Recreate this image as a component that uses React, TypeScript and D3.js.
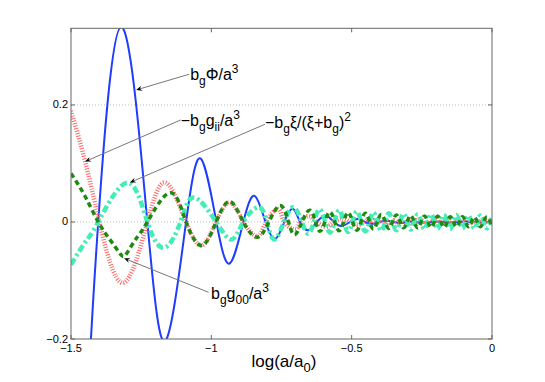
import React from 'react';
import * as d3 from 'd3';

const W = 545;
const H = 382;
const PLOT = { left: 71, right: 492, top: 28.3, bottom: 339 };

const xTicks = [-1.5, -1, -0.5, 0];
const xTickLabels = ['\u22121.5', '\u22121', '\u22120.5', '0'];
const yTicks = [-0.2, 0, 0.2];
const yTickLabels = ['\u22120.2', '0', '0.2'];
const yGrid = [0, 0.2];

// b_g Phi / a^3  (blue solid)
const phi: [number, number][] = [
  [-1.465, -0.45], [-1.447, -0.33], [-1.429, -0.2], [-1.403, 0], [-1.322, 0.333],
  [-1.228, 0], [-1.162, -0.202], [-1.09, 0], [-1.037, 0.108], [-0.982, 0],
  [-0.935, -0.071], [-0.886, 0], [-0.846, 0.0445], [-0.807, 0], [-0.772, -0.0287],
  [-0.74, 0], [-0.71, 0.0225], [-0.684, 0], [-0.655, -0.0142], [-0.624, 0],
  [-0.591, 0.0104], [-0.563, 0], [-0.535, -0.0067], [-0.506, 0], [-0.478, 0.005],
  [-0.453, 0], [-0.426, -0.003], [-0.4, 0], [-0.375, 0.002], [-0.35, 0],
  [-0.32, -0.0015], [-0.29, 0.001], [-0.25, -0.001], [-0.2, 0.001], [-0.15, -0.0008],
  [-0.1, 0.0008], [-0.05, -0.0006], [0, 0],
];

// -b_g g_ii / a^3  (red dotted)
const gii: [number, number][] = [
  [-1.5, 0.19], [-1.45, 0.104], [-1.399, 0], [-1.316, -0.104], [-1.228, 0],
  [-1.162, 0.067], [-1.09, 0], [-1.034, -0.04], [-0.983, 0], [-0.934, 0.033],
  [-0.886, 0], [-0.836, -0.024], [-0.805, 0], [-0.762, 0.0217], [-0.74, 0],
  [-0.7, -0.0125], [-0.684, 0], [-0.655, 0.01], [-0.624, 0], [-0.591, -0.008],
  [-0.563, 0], [-0.535, 0.006], [-0.506, 0], [-0.478, -0.005], [-0.453, 0],
  [-0.44, 0.003], [-0.43, -0.002], [-0.418, 0.004], [-0.405, -0.001], [-0.395, 0.002],
  [-0.383, -0.004], [-0.372, 0.001], [-0.36, -0.002], [-0.348, 0.003], [-0.335, -0.001],
  [-0.323, 0.002], [-0.31, -0.003], [-0.298, 0.001], [-0.285, -0.002], [-0.272, 0.003],
  [-0.26, -0.001], [-0.247, 0.002], [-0.235, -0.003], [-0.222, 0.002], [-0.21, -0.002],
  [-0.198, 0.004], [-0.186, -0.002], [-0.174, 0.003], [-0.162, -0.004], [-0.15, 0.003],
  [-0.138, -0.002], [-0.126, 0.004], [-0.114, -0.003], [-0.102, 0.003], [-0.09, -0.004],
  [-0.078, 0.005], [-0.066, -0.003], [-0.054, 0.004], [-0.042, -0.004], [-0.03, 0.005],
  [-0.018, -0.003], [-0.006, 0.004], [0, 0],
];

// -b_g xi / (xi + b_g)^2  (aquamarine dash-dot)
const xiTerm: [number, number][] = [
  [-1.5, -0.073], [-1.45, -0.035], [-1.403, 0], [-1.3, 0.067], [-1.228, 0],
  [-1.168, -0.044], [-1.11, 0], [-1.062, 0.042], [-0.983, 0], [-0.927, -0.03],
  [-0.886, 0], [-0.833, 0.025], [-0.802, 0], [-0.767, -0.027], [-0.708, 0.025],
  [-0.655, -0.02], [-0.615, 0.022], [-0.578, -0.018], [-0.545, 0.02], [-0.513, -0.017],
  [-0.482, 0.018], [-0.452, -0.016], [-0.423, 0.016], [-0.395, -0.015], [-0.368, 0.015],
  [-0.341, -0.014], [-0.315, 0.014], [-0.29, -0.013], [-0.265, 0.013], [-0.241, -0.012],
  [-0.217, 0.013], [-0.194, -0.012], [-0.171, 0.012], [-0.149, -0.012], [-0.127, 0.012],
  [-0.105, -0.011], [-0.084, 0.011], [-0.063, -0.011], [-0.042, 0.011], [-0.021, -0.01],
  [0, 0.01],
];

// b_g g_00 / a^3  (green dashed)
const g00: [number, number][] = [
  [-1.5, 0.083], [-1.45, 0.044], [-1.403, 0], [-1.36, -0.031], [-1.33, -0.051],
  [-1.314, -0.059], [-1.298, -0.051], [-1.27, -0.03], [-1.228, 0], [-1.147, 0.05],
  [-1.09, 0], [-1.034, -0.04], [-0.983, 0], [-0.934, 0.035], [-0.886, 0],
  [-0.836, -0.026], [-0.795, 0], [-0.755, 0.028], [-0.725, 0], [-0.696, -0.019],
  [-0.649, 0.02], [-0.613, -0.016], [-0.578, 0.017], [-0.545, -0.015], [-0.513, 0.016],
  [-0.482, -0.014], [-0.452, 0.015], [-0.423, -0.012], [-0.395, 0.013], [-0.368, -0.011],
  [-0.341, 0.012], [-0.315, -0.01], [-0.29, 0.011], [-0.265, -0.01], [-0.241, 0.01],
  [-0.217, -0.009], [-0.194, 0.01], [-0.171, -0.009], [-0.149, 0.009], [-0.127, -0.008],
  [-0.105, 0.009], [-0.084, -0.008], [-0.063, 0.008], [-0.042, -0.008], [-0.021, 0.008],
  [0, -0.007],
];

type Part = [string, 'n' | 'b' | 'p'];
const labelPhi: Part[] = [['b', 'n'], ['g', 'b'], ['\u03A6/a', 'n'], ['3', 'p']];
const labelGii: Part[] = [['\u2212b', 'n'], ['g', 'b'], ['g', 'n'], ['ii', 'b'], ['/a', 'n'], ['3', 'p']];
const labelXi: Part[] = [['\u2212b', 'n'], ['g', 'b'], ['\u03BE/(\u03BE+b', 'n'], ['g', 'b'], [')', 'n'], ['2', 'p']];
const labelG00: Part[] = [['b', 'n'], ['g', 'b'], ['g', 'n'], ['00', 'b'], ['/a', 'n'], ['3', 'p']];
const labelX: Part[] = [['log(a/a', 'n'], ['0', 'b'], [')', 'n']];

// annotation: arrow tip (data coords), line start (data coords), text offset
const annotations = [
  { parts: labelPhi, tip: [-1.268, 0.2256], from: [-1.079, 0.2525], dx: 1, dy: 5.5 },
  { parts: labelGii, tip: [-1.45, 0.1032], from: [-1.109, 0.1744], dx: 0, dy: 6 },
  { parts: labelXi, tip: [-1.29, 0.0674], from: [-0.809, 0.167], dx: 0, dy: 4 },
  { parts: labelG00, tip: [-1.311, -0.062], from: [-1.01, -0.1202], dx: 2.5, dy: 6.5 },
];

const FONT = "'Liberation Sans', Arial, Helvetica, sans-serif";

function Rich({ x, y, parts, fs, sfs, sub, sup, anchor }: any) {
  let cur = 0;
  return (
    <text x={x} y={y} fontSize={fs} fontFamily={FONT} textAnchor={anchor || 'start'} fill="#000">
      {parts.map((p: Part, i: number) => {
        const target = p[1] === 'b' ? sub : p[1] === 'p' ? sup : 0;
        const dy = target - cur;
        cur = target;
        return (
          <tspan key={i} dy={dy} fontSize={p[1] === 'n' ? fs : sfs}>
            {p[0]}
          </tspan>
        );
      })}
    </text>
  );
}

export default function App() {
  const x = d3.scaleLinear().domain([-1.5, 0]).range([PLOT.left, PLOT.right]);
  const y = d3.scaleLinear().domain([-0.2, 0.331]).range([PLOT.bottom, PLOT.top]);
  const line = d3
    .line<[number, number]>()
    .x((d) => x(d[0]))
    .y((d) => y(d[1]))
    .curve(d3.curveNatural);

  const axisColor = '#666';
  const tick = 4;

  return (
    <svg width={W} height={H} style={{ position: 'absolute', left: 0, top: 0, background: '#fff' }}>
      <defs>
        <clipPath id="plotclip">
          <rect x={PLOT.left} y={PLOT.top} width={PLOT.right - PLOT.left} height={PLOT.bottom - PLOT.top} />
        </clipPath>
      </defs>
      <rect x={0} y={0} width={W} height={H} fill="#fff" />
      {yGrid.map((v) => (
        <line key={v} x1={PLOT.left} x2={PLOT.right} y1={y(v)} y2={y(v)} stroke="#bbb" strokeWidth={1} strokeDasharray="1 2" />
      ))}
      <g clipPath="url(#plotclip)" fill="none">
        <path d={line(phi) || ''} stroke="#1f3cff" strokeWidth={2} />
        <path d={line(gii) || ''} stroke="#ff6666" strokeWidth={4.5} strokeDasharray="1 1.6" />
        <path d={line(xiTerm) || ''} stroke="#44ecb6" strokeWidth={4.5} strokeDasharray="7 3 2.5 3" />
        <path d={line(g00) || ''} stroke="#1f8a10" strokeWidth={3.5} strokeDasharray="5 3.5" />
      </g>
      <rect x={PLOT.left} y={PLOT.top} width={PLOT.right - PLOT.left} height={PLOT.bottom - PLOT.top} fill="none" stroke={axisColor} strokeWidth={1} />
      {xTicks.map((v, i) => (
        <g key={'xt' + i}>
          <line x1={x(v)} x2={x(v)} y1={PLOT.bottom} y2={PLOT.bottom - tick} stroke={axisColor} />
          <line x1={x(v)} x2={x(v)} y1={PLOT.top} y2={PLOT.top + tick} stroke={axisColor} />
          <text x={x(v)} y={352} fontSize={11} fontFamily={FONT} textAnchor="middle" fill="#000">
            {xTickLabels[i]}
          </text>
        </g>
      ))}
      {yTicks.map((v, i) => (
        <g key={'yt' + i}>
          <line x1={PLOT.left} x2={PLOT.left + tick} y1={y(v)} y2={y(v)} stroke={axisColor} />
          <line x1={PLOT.right} x2={PLOT.right - tick} y1={y(v)} y2={y(v)} stroke={axisColor} />
          <text x={PLOT.left - 3} y={y(v) + 3.5} fontSize={11} fontFamily={FONT} textAnchor="end" fill="#000">
            {yTickLabels[i]}
          </text>
        </g>
      ))}
      <Rich x={(PLOT.left + PLOT.right) / 2 - 30} y={367} parts={labelX} fs={17} sfs={13} sub={5} sup={-7} />
      {annotations.map((a, i) => {
        const tx = x(a.tip[0]);
        const ty = y(a.tip[1]);
        const fx = x(a.from[0]);
        const fy = y(a.from[1]);
        const len = Math.hypot(tx - fx, ty - fy);
        const ux = (tx - fx) / len;
        const uy = (ty - fy) / len;
        const nx = -uy;
        const ny = ux;
        const L = 6;
        const w = 2.5;
        const head = `M${tx},${ty} L${tx - L * ux + w * nx},${ty - L * uy + w * ny} L${tx - 0.65 * L * ux},${ty - 0.65 * L * uy} L${tx - L * ux - w * nx},${ty - L * uy - w * ny} Z`;
        return (
          <g key={'an' + i}>
            <line x1={fx} y1={fy} x2={tx - 0.6 * L * ux} y2={ty - 0.6 * L * uy} stroke="#777" strokeWidth={1} />
            <path d={head} fill="#000" />
            <Rich x={fx + a.dx} y={fy + a.dy} parts={a.parts} fs={16} sfs={12} sub={5} sup={-7} />
          </g>
        );
      })}
    </svg>
  );
}
